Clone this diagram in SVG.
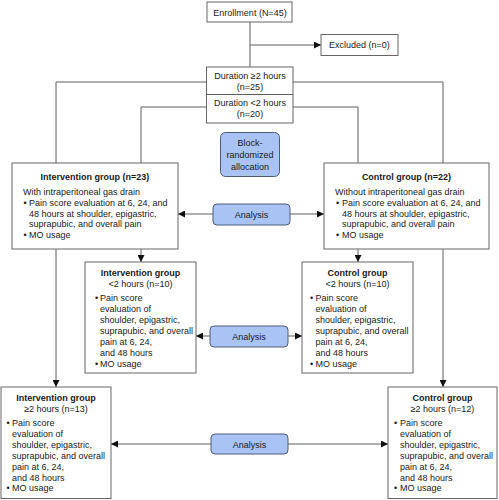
<svg xmlns="http://www.w3.org/2000/svg" width="499" height="500" viewBox="0 0 499 500">
<defs>
<marker id="ah" viewBox="0 0 10 10" refX="10" refY="5" markerWidth="7" markerHeight="7" markerUnits="userSpaceOnUse" orient="auto">
<path d="M0,0 L10,5 L0,10 z" fill="#111"/>
</marker>
</defs>
<style>
text{font-family:"Liberation Sans",Arial,sans-serif;font-size:9px;fill:#1a1a1a}
.b{font-weight:bold}
.c{text-anchor:middle}
.box{fill:#fff;stroke:#666;stroke-width:1}
.blue{fill:#a9c3f4;stroke:#4f5c78;stroke-width:1}
.ln{fill:none;stroke:#5e5e5e;stroke-width:1}
.ar{marker-end:url(#ah)}
</style>
<rect width="499" height="500" fill="#fff"/>
<g id="connectors">
<path class="ln" d="M250,22 V67"/>
<path class="ln ar" d="M250,45 H321"/>
<path class="ln ar" d="M206,82 H56 V387"/>
<path class="ln ar" d="M206,107 H141 V262"/>
<path class="ln ar" d="M293,82 H443 V387"/>
<path class="ln ar" d="M293,107 H358 V262"/>
<path class="ln ar" d="M213,214 H178"/>
<path class="ln ar" d="M290,214 H324"/>
<path class="ln ar" d="M210,336 H196"/>
<path class="ln ar" d="M288,336 H302"/>
<path class="ln ar" d="M211,444 H111"/>
<path class="ln ar" d="M288,444 H388"/>
</g>
<g id="enrollment">
<rect class="box" x="207" y="2" width="85" height="20"/>
<text class="c" x="250" y="15.5">Enrollment (N=45)</text>
</g>
<g id="excluded">
<rect class="box" x="321" y="34.5" width="77" height="21"/>
<text x="329" y="48.2">Excluded (n=0)</text>
</g>
<g id="duration">
<rect class="box" x="206.5" y="67" width="86.5" height="56"/>
<line class="ln" x1="206.5" y1="94.5" x2="293" y2="94.5"/>
<text class="c" x="250" y="78.5">Duration ≥2 hours</text>
<text class="c" x="250" y="90">(n=25)</text>
<text class="c" x="250" y="106">Duration &lt;2 hours</text>
<text class="c" x="250" y="117">(n=20)</text>
</g>
<g id="block">
<rect class="blue" x="220.5" y="132.5" width="59" height="44" rx="5"/>
<text class="c" x="250" y="145.5">Block-</text>
<text class="c" x="250" y="157.5">randomized</text>
<text class="c" x="250" y="169.5">allocation</text>
</g>
<g id="intervention">
<rect class="box" x="12" y="163" width="166" height="86"/>
<text class="c b" x="95" y="179.5">Intervention group (n=23)</text>
<text x="23" y="195">With intraperitoneal gas drain</text>
<text x="23.5" y="205.5">•</text>
<text x="29" y="205.5">Pain score evaluation at 6, 24, and</text>
<text x="29" y="216.5">48 hours at shoulder, epigastric,</text>
<text x="29" y="227">suprapubic, and overall pain</text>
<text x="23.5" y="238">•</text>
<text x="29" y="238">MO usage</text>
</g>
<g id="control">
<rect class="box" x="324" y="163" width="165" height="86"/>
<text class="c b" x="406.5" y="179.5">Control group (n=22)</text>
<text x="335" y="195">Without intraperitoneal gas drain</text>
<text x="336" y="205.5">•</text>
<text x="342" y="205.5">Pain score evaluation at 6, 24, and</text>
<text x="342" y="216.5">48 hours at shoulder, epigastric,</text>
<text x="342" y="227">suprapubic, and overall pain</text>
<text x="336" y="238">•</text>
<text x="342" y="238">MO usage</text>
</g>
<g id="analysis1">
<rect class="blue" x="213" y="204" width="77" height="21" rx="4"/>
<text class="c" x="251.5" y="217.5">Analysis</text>
</g>
<g id="intervention-lt2">
<rect class="box" x="85" y="262" width="111" height="111"/>
<text class="c b" x="140.5" y="276">Intervention group</text>
<text class="c" x="140.5" y="287">&lt;2 hours (n=10)</text>
<text x="95" y="301">•</text>
<text x="100" y="301">Pain score</text>
<text x="100" y="312">evaluation of</text>
<text x="100" y="323">shoulder, epigastric,</text>
<text x="100" y="334">suprapubic, and overall</text>
<text x="100" y="345">pain at 6, 24,</text>
<text x="100" y="356">and 48 hours</text>
<text x="95" y="366.5">•</text>
<text x="100" y="366.5">MO usage</text>
</g>
<g id="control-lt2">
<rect class="box" x="302" y="262" width="111" height="111"/>
<text class="c b" x="357.5" y="276">Control group</text>
<text class="c" x="357.5" y="287">&lt;2 hours (n=10)</text>
<text x="310" y="301">•</text>
<text x="315.5" y="301">Pain score</text>
<text x="315.5" y="312">evaluation of</text>
<text x="315.5" y="323">shoulder, epigastric,</text>
<text x="315.5" y="334">suprapubic, and overall</text>
<text x="315.5" y="345">pain at 6, 24,</text>
<text x="315.5" y="356">and 48 hours</text>
<text x="310" y="366.5">•</text>
<text x="315.5" y="366.5">MO usage</text>
</g>
<g id="analysis2">
<rect class="blue" x="210" y="326" width="78" height="21" rx="4"/>
<text class="c" x="249" y="339.5">Analysis</text>
</g>
<g id="intervention-ge2">
<rect class="box" x="1" y="387" width="110" height="111.5"/>
<text class="c b" x="56" y="401">Intervention group</text>
<text class="c" x="56" y="412">≥2 hours (n=13)</text>
<text x="6.5" y="426">•</text>
<text x="12" y="426">Pain score</text>
<text x="12" y="437">evaluation of</text>
<text x="12" y="448">shoulder, epigastric,</text>
<text x="12" y="459">suprapubic, and overall</text>
<text x="12" y="470">pain at 6, 24,</text>
<text x="12" y="480.5">and 48 hours</text>
<text x="6.5" y="491">•</text>
<text x="12" y="491">MO usage</text>
</g>
<g id="control-ge2">
<rect class="box" x="388" y="387" width="109" height="111.5"/>
<text class="c b" x="442.5" y="401">Control group</text>
<text class="c" x="442.5" y="412">≥2 hours (n=12)</text>
<text x="394" y="426">•</text>
<text x="400" y="426">Pain score</text>
<text x="400" y="437">evaluation of</text>
<text x="400" y="448">shoulder, epigastric,</text>
<text x="400" y="459">suprapubic, and overall</text>
<text x="400" y="470">pain at 6, 24,</text>
<text x="400" y="480.5">and 48 hours</text>
<text x="394" y="491">•</text>
<text x="400" y="491">MO usage</text>
</g>
<g id="analysis3">
<rect class="blue" x="211" y="434" width="77" height="20" rx="4"/>
<text class="c" x="249.5" y="447.5">Analysis</text>
</g>
</svg>
